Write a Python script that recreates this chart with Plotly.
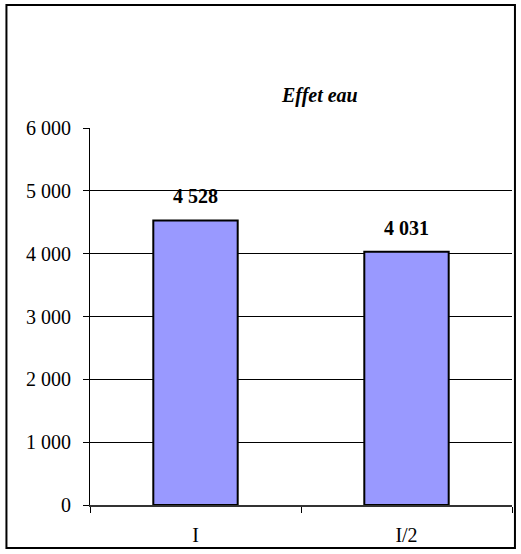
import plotly.graph_objects as go

categories = ["I", "I/2"]
values = [4528, 4031]
y_ticks = [0, 1000, 2000, 3000, 4000, 5000, 6000]

FONT = "Liberation Serif"


def fr(v):
    return f"{v:,}".replace(",", " ")


fig = go.Figure(
    go.Bar(
        x=categories,
        y=values,
        marker=dict(color="#9999FF", line=dict(color="black", width=2)),
        width=0.4,
        hoverinfo="skip",
    )
)

# value labels above each bar
for c, v in zip(categories, values):
    fig.add_annotation(
        x=c, y=v, text=f"<b>{fr(v)}</b>", showarrow=False,
        yanchor="bottom", yshift=11,
        font=dict(family=FONT, size=20, color="black"),
    )

# chart title
fig.add_annotation(
    x=0.543, y=1.085, xref="paper", yref="paper",
    xanchor="center", yanchor="middle",
    text="<b><i>Effet eau</i></b>", showarrow=False,
    font=dict(family=FONT, size=20, color="black"),
)

# outer frame around the whole chart
fig.add_shape(
    type="rect", xref="paper", yref="paper",
    x0=-0.198, x1=1.007, y0=-0.114, y1=1.326,
    line=dict(color="black", width=2), fillcolor="rgba(0,0,0,0)",
)

fig.update_layout(
    width=521, height=554,
    margin=dict(l=90, r=9, t=128, b=49),
    paper_bgcolor="white", plot_bgcolor="white",
    showlegend=False,
    font=dict(family=FONT, size=20, color="black"),
)

fig.update_xaxes(
    automargin=False,
    showline=True, linecolor="#333333", linewidth=1.5,
    ticks="outside", ticklen=6, tickcolor="black",
    tickson="boundaries", showgrid=False,
    ticklabelstandoff=11,
    tickfont=dict(family=FONT, size=20, color="black"),
)

fig.update_yaxes(
    automargin=False,
    range=[0, 6000],
    tickvals=y_ticks, ticktext=[fr(t) for t in y_ticks],
    showline=True, linecolor="black", linewidth=1,
    ticks="outside", ticklen=6, tickcolor="black",
    showgrid=True, gridcolor="black", gridwidth=1,
    zeroline=False,
    ticklabelstandoff=8,
    tickfont=dict(family=FONT, size=20, color="black"),
)

fig.write_html("out.html")
